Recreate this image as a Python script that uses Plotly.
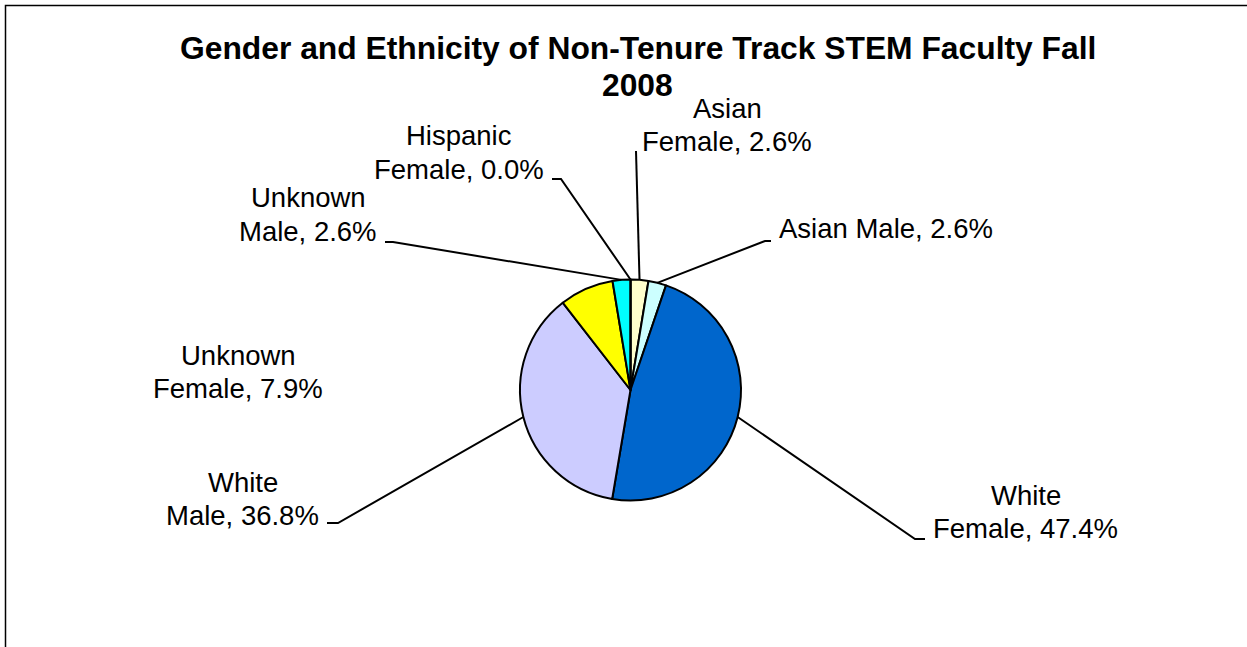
import math
import plotly.graph_objects as go

# ---- data ----
labels = ["Asian Female", "Asian Male", "White Female", "White Male",
          "Unknown Female", "Unknown Male", "Hispanic Female"]
values = [2.6, 2.6, 47.4, 36.8, 7.9, 2.6, 0.0]
title_lines = ["Gender and Ethnicity of Non-Tenure Track STEM Faculty Fall", "2008"]

# ---- style ----
colors = ["#FFFFCC", "#CCFFFF", "#0066CC", "#CCCCFF", "#FFFF00", "#00FFFF", "#FF99CC"]
wrap_after_first_word = [True, False, True, True, True, True, True]

W, H = 1247, 647
CX, CY, R = 630.5, 390.0, 110.5          # pie centre / radius in px
FONT = "Liberation Sans, Arial, sans-serif"
LABEL_FS = 27.5
TITLE_FS = 31.8

# label placement: centre x, baseline of first line, line spacing (px)
label_pos = [
    (727.0, 118.3, 32.6),
    (886.0, 238.5, 0.0),
    (1025.5, 505.0, 33.3),
    (242.5, 491.7, 33.3),
    (238.0, 365.0, 32.7),
    (308.0, 206.7, 34.0),
    (459.0, 145.0, 34.3),
]
# leader lines: label-side points (elbow, tail) in px, None = no leader
leader_pts = [
    [(636.0, 151.0)],
    [(765.0, 241.0), (771.0, 241.0)],
    [(915.0, 539.0), (925.0, 539.0)],
    [(338.0, 523.0), (327.0, 523.0)],
    None,
    [(393.0, 242.0), (385.0, 242.0)],
    [(561.0, 179.0), (552.0, 179.0)],
]


def px(x):
    return x / W


def py(y):
    return 1 - y / H


fig = go.Figure()
fig.add_trace(go.Pie(
    labels=labels, values=values, sort=False, direction="clockwise", rotation=0,
    marker=dict(colors=colors, line=dict(color="black", width=2)),
    textinfo="none", hoverinfo="label+percent", showlegend=False,
    domain=dict(x=[px(CX - R), px(CX + R)], y=[py(CY + R), py(CY - R)]),
))

annotations = []
shapes = []

# title
for i, line in enumerate(title_lines):
    base = 59.3 + i * 36.7
    annotations.append(dict(
        text=f"<b>{line}</b>", x=px(637.5), y=py(base - 0.3465 * TITLE_FS),
        xref="paper", yref="paper", xanchor="center", yanchor="middle",
        showarrow=False, font=dict(family=FONT, size=TITLE_FS, color="black")))

total = sum(values)
cum = 0.0
for i, (lab, val) in enumerate(zip(labels, values)):
    mid = (cum + val / 2) / total
    cum += val
    theta = 2 * math.pi * mid
    ex = CX + R * math.sin(theta)
    ey = CY - R * math.cos(theta)

    txt = f"{lab}, {val:.1f}%"
    if wrap_after_first_word[i]:
        first, rest = txt.split(" ", 1)
        lines = [first, rest]
    else:
        lines = [txt]
    cx, base, sp = label_pos[i]
    for k, ln in enumerate(lines):
        b = base + k * sp
        annotations.append(dict(
            text=ln, x=px(cx), y=py(b - 0.3465 * LABEL_FS),
            xref="paper", yref="paper", xanchor="center", yanchor="middle",
            showarrow=False, font=dict(family=FONT, size=LABEL_FS, color="black")))

    pts = leader_pts[i]
    if pts:
        path = f"M {px(ex)},{py(ey)}"
        for (lx, ly) in pts:
            path += f" L {px(lx)},{py(ly)}"
        shapes.append(dict(type="path", path=path, xref="paper", yref="paper",
                           line=dict(color="black", width=2)))

# outer frame (top and left edges visible; extends past the right/bottom)
shapes.append(dict(type="rect", xref="paper", yref="paper",
                   x0=px(5.5), y0=py(5.5), x1=1.05, y1=-0.05,
                   line=dict(color="black", width=1.5), fillcolor="rgba(0,0,0,0)"))

fig.update_layout(
    width=W, height=H, margin=dict(l=0, r=0, t=0, b=0),
    paper_bgcolor="white", plot_bgcolor="white",
    annotations=annotations, shapes=shapes,
)

fig.write_html("out.html", config={"displayModeBar": False},
               post_script="document.body.style.margin='0';")
